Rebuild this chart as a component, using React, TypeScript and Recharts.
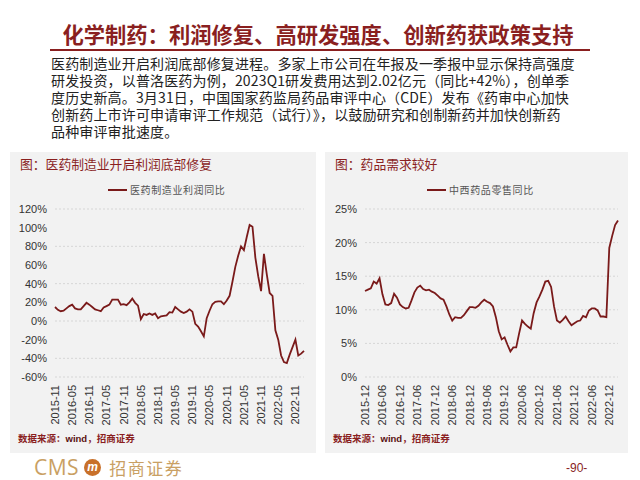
import { LineChart, Line, XAxis, YAxis, CartesianGrid } from 'recharts'

const FONT_CN = '"Noto Sans CJK SC", "Noto Sans", sans-serif'
const FONT_NUM = '"Liberation Sans", Arial, sans-serif'
const RED = '#8a1f1f'
const LINE = '#7a1a1a'

// 医药制造业利润同比, 2015-11 .. 2023-02
const profitDates = [
  '2015-11', '2015-12',
  '2016-01', '2016-02', '2016-03', '2016-04', '2016-05', '2016-06', '2016-07', '2016-08', '2016-09', '2016-10', '2016-11', '2016-12',
  '2017-01', '2017-02', '2017-03', '2017-04', '2017-05', '2017-06', '2017-07', '2017-08', '2017-09', '2017-10', '2017-11', '2017-12',
  '2018-01', '2018-02', '2018-03', '2018-04', '2018-05', '2018-06', '2018-07', '2018-08', '2018-09', '2018-10', '2018-11', '2018-12',
  '2019-01', '2019-02', '2019-03', '2019-04', '2019-05', '2019-06', '2019-07', '2019-08', '2019-09', '2019-10', '2019-11', '2019-12',
  '2020-01', '2020-02', '2020-03', '2020-04', '2020-05', '2020-06', '2020-07', '2020-08', '2020-09', '2020-10', '2020-11', '2020-12',
  '2021-01', '2021-02', '2021-03', '2021-04', '2021-05', '2021-06', '2021-07', '2021-08', '2021-09', '2021-10', '2021-11', '2021-12',
  '2022-01', '2022-02', '2022-03', '2022-04', '2022-05', '2022-06', '2022-07', '2022-08', '2022-09', '2022-10', '2022-11', '2022-12',
  '2023-01', '2023-02',
]
const profitYoY = [
  15, 12, 10.5, 11, 13.5, 16, 17.5, 13.5, 12.5, 12.5,
  16, 19.5, 17.5, 15, 12.5, 11.5, 10.5, 14.5, 16, 17.5,
  23, 23, 23, 17.5, 18, 17, 20, 24, 19.5, 16.5,
  2, 7.5, 6.5, 8, 6.5, 8, 3, 5, 5.5, 6,
  9.5, 9, 15, 12.5, 10, 8.5, 10, 12.5, 10, -3,
  -6, -11, -16.5, 3, 11, 18, 20.5, 21, 21, 18,
  22, 27, 42, 58, 70, 80, 76, 90, 103, 101,
  68, 48, 32, 72, 50, 30, 27, -10, -20, -37,
  -44, -45, -36, -28, -20, -37, -35, -32,
]
const profitTicks = [-60, -40, -20, 0, 20, 40, 60, 80, 100, 120]

// 中西药品零售同比, 2015-12 .. 2023-03
const retailDates = [
  '2015-12',
  '2016-01', '2016-02', '2016-03', '2016-04', '2016-05', '2016-06', '2016-07', '2016-08', '2016-09', '2016-10', '2016-11', '2016-12',
  '2017-01', '2017-02', '2017-03', '2017-04', '2017-05', '2017-06', '2017-07', '2017-08', '2017-09', '2017-10', '2017-11', '2017-12',
  '2018-01', '2018-02', '2018-03', '2018-04', '2018-05', '2018-06', '2018-07', '2018-08', '2018-09', '2018-10', '2018-11', '2018-12',
  '2019-01', '2019-02', '2019-03', '2019-04', '2019-05', '2019-06', '2019-07', '2019-08', '2019-09', '2019-10', '2019-11', '2019-12',
  '2020-01', '2020-02', '2020-03', '2020-04', '2020-05', '2020-06', '2020-07', '2020-08', '2020-09', '2020-10', '2020-11', '2020-12',
  '2021-01', '2021-02', '2021-03', '2021-04', '2021-05', '2021-06', '2021-07', '2021-08', '2021-09', '2021-10', '2021-11', '2021-12',
  '2022-01', '2022-02', '2022-03', '2022-04', '2022-05', '2022-06', '2022-07', '2022-08', '2022-09', '2022-10', '2022-11', '2022-12',
  '2023-01', '2023-02', '2023-03',
]
const retailYoY = [
  12.8, 13.0, 13.2, 14.2, 13.9, 14.7, 12.3, 10.8, 10.7, 11.0,
  12.4, 11.8, 10.8, 10.4, 10.2, 10.3, 11.4, 12.6, 13.3, 13.6,
  13.1, 12.9, 13.0, 12.7, 12.5, 12.1, 11.7, 11.5, 10.5, 9.3,
  8.4, 8.9, 8.8, 8.8, 9.2, 9.8, 10.4, 10.4, 10.3, 10.6,
  11.1, 11.5, 11.2, 11.0, 10.5, 8.9, 6.8, 5.6, 5.9, 4.8,
  3.8, 4.4, 4.4, 6.5, 8.4, 7.9, 7.5, 7.2, 9.5, 11.1,
  12.0, 13.0, 14.2, 14.3, 13.4, 10.5, 8.4, 8.1, 8.5, 9.0,
  8.3, 7.7, 8.0, 8.3, 8.4, 9.1, 8.9, 9.9, 10.2, 10.2,
  9.9, 9.0, 9.0, 8.9, 19.2, 21.0, 22.6, 23.3,
]
const retailTicks = [0, 5, 10, 15, 20, 25]

const bodyLines = [
  '医药制造业开启利润底部修复进程。多家上市公司在年报及一季报中显示保持高强度',
  '研发投资，以普洛医药为例，2023Q1研发费用达到2.02亿元（同比+42%），创单季',
  '度历史新高。3月31日，中国国家药监局药品审评中心（CDE）发布《药审中心加快',
  '创新药上市许可申请审评工作规范（试行）》，以鼓励研究和创制新药并加快创新药',
  '品种审评审批速度。',
]

// eslint-disable-next-line @typescript-eslint/no-explicit-any
function DateTick({ x, y, payload }: any) {
  return (
    <g transform={`translate(${x},${y})`}>
      <text transform="rotate(-90)" textAnchor="end" dy="0.35em" fontSize={11}
        fill="#333" fontFamily={FONT_NUM}>
        {payload.value}
      </text>
    </g>
  )
}

interface PanelProps {
  left: number
  width: number
  title: string
  legend: string
  legendLeft: number
  dates: string[]
  values: number[]
  ticks: number[]
  yWidth: number
  marginRight: number
}

function Panel({ left, width, title, legend, legendLeft, dates, values, ticks, yWidth, marginRight }: PanelProps) {
  const data = dates.map((d, i) => ({ date: d, v: values[i] }))
  return (
    <div style={{ position: 'absolute', left, top: 152, width, height: 301, background: '#f2f2f2' }}>
      <div style={{ position: 'absolute', left: 10, top: 2, fontFamily: FONT_CN, fontSize: 12.8, color: RED, whiteSpace: 'nowrap' }}>
        {title}
      </div>
      <div style={{ position: 'absolute', left: legendLeft, top: 30, display: 'flex', alignItems: 'center', whiteSpace: 'nowrap' }}>
        <div style={{ width: 19, height: 2, background: LINE, marginRight: 3 }} />
        <span style={{ fontFamily: FONT_CN, fontSize: 10, color: '#555', letterSpacing: 0.6 }}>{legend}</span>
      </div>
      <div style={{ position: 'absolute', left: 0, top: 28 }}>
        <LineChart width={width} height={252} data={data}
          margin={{ top: 29, right: marginRight, left: 0, bottom: 0 }}>
          <CartesianGrid vertical={false} stroke="#d6d6d6" strokeDasharray="2 2" />
          <XAxis dataKey="date" interval={5} tick={<DateTick />} axisLine={false} tickLine={false} height={55} />
          <YAxis domain={[ticks[0], ticks[ticks.length - 1]]} ticks={ticks} width={yWidth}
            tickFormatter={(v: number) => `${v}%`} axisLine={false} tickLine={false}
            tick={{ fontSize: 11, fill: '#333', fontFamily: FONT_NUM }} />
          <Line type="linear" dataKey="v" stroke={LINE} strokeWidth={1.8} dot={false} isAnimationActive={false} />
        </LineChart>
      </div>
      <div style={{ position: 'absolute', left: 8, top: 279, fontFamily: FONT_CN, fontSize: 9.5, color: RED, fontWeight: 700, whiteSpace: 'nowrap' }}>
        数据来源：<span style={{ fontFamily: FONT_NUM, color: '#5a1010' }}>wind</span>，招商证券
      </div>
    </div>
  )
}

export default function App() {
  return (
    <div style={{ position: 'absolute', left: 0, top: 0, width: 640, height: 480, background: '#fff', overflow: 'hidden' }}>
      <div style={{ position: 'absolute', left: 0, width: 636, top: 18, textAlign: 'center', fontFamily: FONT_CN, fontWeight: 700, fontSize: 21.3, color: RED, whiteSpace: 'nowrap' }}>
        化学制药：利润修复、高研发强度、创新药获政策支持
      </div>
      <div style={{ position: 'absolute', left: 50, top: 49, width: 540, height: 2, background: RED }} />
      {bodyLines.map((l, i) => (
        <div key={l} style={{ position: 'absolute', left: 51, top: 55 + i * 17, height: 17, fontFamily: FONT_CN, fontSize: 14, lineHeight: '17px', letterSpacing: 0.15, color: '#222', whiteSpace: 'nowrap' }}>
          {l}
        </div>
      ))}
      <Panel left={10} width={306} title="图：医药制造业开启利润底部修复" legend="医药制造业利润同比" legendLeft={98}
        dates={profitDates} values={profitYoY} ticks={profitTicks} yWidth={45} marginRight={12} />
      <Panel left={325} width={303} title="图：药品需求较好" legend="中西药品零售同比" legendLeft={102}
        dates={retailDates} values={retailYoY} ticks={retailTicks} yWidth={40} marginRight={10} />
      <div style={{ position: 'absolute', left: 34, top: 456, height: 22, display: 'flex', alignItems: 'center', whiteSpace: 'nowrap', lineHeight: 1 }}>
        <span style={{ fontFamily: '"Open Sans", sans-serif', fontSize: 21, color: '#c9a063', letterSpacing: 0.5, lineHeight: 1 }}>CMS</span>
        <span style={{ display: 'inline-flex', width: 17, height: 17, borderRadius: 9, background: '#c8702a', color: '#fff', fontSize: 12, fontFamily: FONT_NUM, fontStyle: 'italic', fontWeight: 700, alignItems: 'center', justifyContent: 'center', margin: '0 8px 0 5px', lineHeight: 1 }}>m</span>
        <span style={{ fontFamily: FONT_CN, fontSize: 17, color: '#c9a063', letterSpacing: 1.5, lineHeight: 1 }}>招商证券</span>
      </div>
      <div style={{ position: 'absolute', left: 566, top: 462, fontFamily: FONT_NUM, fontSize: 12, color: RED, lineHeight: 1 }}>-90-</div>
    </div>
  )
}
